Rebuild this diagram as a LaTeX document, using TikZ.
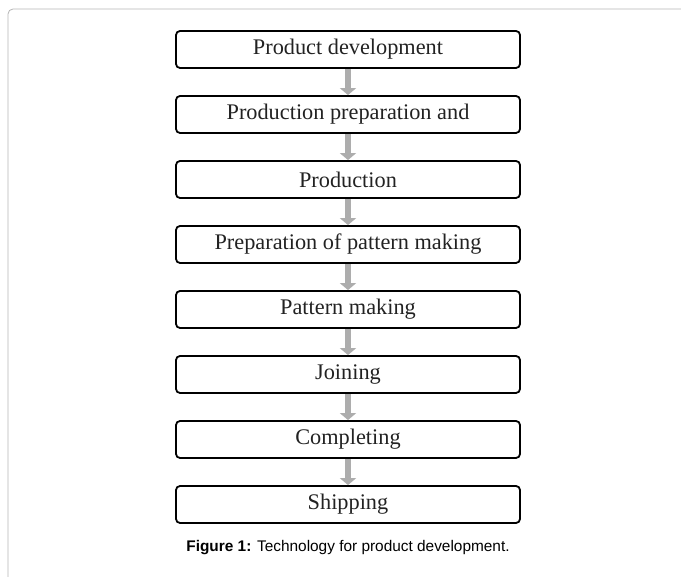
\documentclass[tikz,border=0pt]{standalone}
\usepackage{fontspec}
\setmainfont{Liberation Serif}
\setsansfont{Liberation Sans}
\usetikzlibrary{positioning, arrows.meta}

\definecolor{framegray}{HTML}{B4B4B4}
\definecolor{arrowgray}{HTML}{ADADAD}
\definecolor{textgray}{HTML}{222222}

\begin{document}
\begin{tikzpicture}[x=1pt, y=-1pt, node distance=65pt,
    stage/.style={draw, rectangle, rounded corners=4pt, line width=1.8pt, minimum height=37pt, minimum width=344pt, text=textgray, font=\fontsize{22.3}{24}\selectfont},
    flow/.style={draw=arrowgray, line width=6.5pt, -{Triangle[width=16pt, length=7pt]}, arrowgray}]

    \useasboundingbox (0,0) rectangle (681,577);

    % page frame
    \draw[framegray, line width=0.8pt, rounded corners=5pt] (8,577) |- (681,9);

    % stages, top to bottom
    \node[stage] (develop) at (348,49.5) {Product development};
    \node[stage] (prepare) [below of=develop] {Production preparation and};
    \node[stage] (produce) [below of=prepare] {Production};
    \node[stage] (patprep) [below of=produce] {Preparation of pattern making};
    \node[stage] (pattern) [below of=patprep] {Pattern making};
    \node[stage] (joining) [below of=pattern] {Joining};
    \node[stage] (complete) [below of=joining] {Completing};
    \node[stage] (shipping) [below of=complete] {Shipping};

    % caption
    \node (caption) [below=16pt of shipping, inner sep=0pt, font=\sffamily\fontsize{15.4}{17}\selectfont] {\textbf{Figure 1:} Technology for product development.};

    % arrows between stages
    \draw[flow] (develop.south) -- (prepare.north);
    \draw[flow] (prepare.south) -- (produce.north);
    \draw[flow] (produce.south) -- (patprep.north);
    \draw[flow] (patprep.south) -- (pattern.north);
    \draw[flow] (pattern.south) -- (joining.north);
    \draw[flow] (joining.south) -- (complete.north);
    \draw[flow] (complete.south) -- (shipping.north);

\end{tikzpicture}
\end{document}
